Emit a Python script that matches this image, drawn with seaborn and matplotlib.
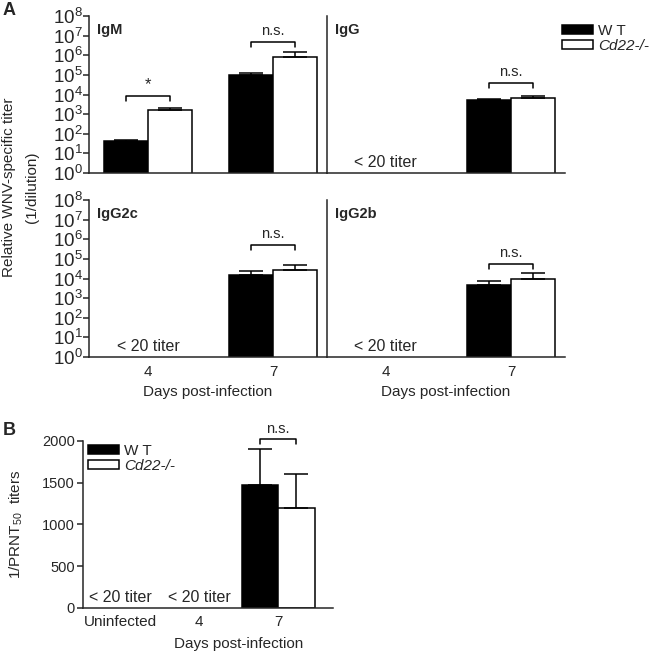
import numpy as np
import pandas as pd
import matplotlib
matplotlib.use("Agg")
import matplotlib.pyplot as plt
import matplotlib.transforms as mtransforms
from matplotlib.ticker import NullLocator
import seaborn as sns

# --- data ---
genotypes = ["W T", "Cd22-/-"]
days_a = ["4", "7"]
days_b = ["Uninfected", "4", "7"]
nan = np.nan

igm_wt = [41, 97000]
igm_ko = [1700, 800000]
igm_wt_sem = [9, 33000]
igm_ko_sem = [480, 650000]

igg_wt = [nan, 5500]
igg_ko = [nan, 6500]
igg_wt_sem = [nan, 500]
igg_ko_sem = [nan, 2400]

igg2c_wt = [nan, 15000]
igg2c_ko = [nan, 26000]
igg2c_wt_sem = [nan, 8000]
igg2c_ko_sem = [nan, 24000]

igg2b_wt = [nan, 4600]
igg2b_ko = [nan, 9300]
igg2b_wt_sem = [nan, 2800]
igg2b_ko_sem = [nan, 8700]

prnt_wt = [nan, nan, 1470]
prnt_ko = [nan, nan, 1195]
prnt_wt_sem = [nan, nan, 430]
prnt_ko_sem = [nan, nan, 410]

# significance labels: (day index, bracket height, label)
sig_igm = [(0, 10**3.9, "*"), (1, 10**6.67, "n.s.")]
sig_igg = [(1, 10**4.58, "n.s.")]
sig_igg2c = [(1, 10**5.7, "n.s.")]
sig_igg2b = [(1, 10**4.75, "n.s.")]
sig_prnt = [(2, 2020, "n.s.")]

# --- style ---
sns.set_style("ticks")
plt.rcParams["font.family"] = ["Liberation Sans", "DejaVu Sans"]
plt.rcParams["mathtext.fontset"] = "custom"
plt.rcParams["mathtext.rm"] = "Liberation Sans"
plt.rcParams["mathtext.it"] = "Liberation Sans:italic"
plt.rcParams["mathtext.bf"] = "Liberation Sans:bold"
plt.rcParams["axes.linewidth"] = 1.1
plt.rcParams["xtick.major.width"] = 1.1
plt.rcParams["ytick.major.width"] = 1.1
plt.rcParams["ytick.major.size"] = 4
plt.rcParams["xtick.major.size"] = 0
plt.rcParams["font.size"] = 10

palette = {"W T": "black", "Cd22-/-": "white"}


def make_df(days, wt, ko):
    return pd.DataFrame({
        "day": days * 2,
        "genotype": [genotypes[0]] * len(days) + [genotypes[1]] * len(days),
        "titer": list(wt) + list(ko),
    })


def draw_panel(ax, days, wt, ko, wt_sem, ko_sem, width, sigs, log=True, legend=False):
    df = make_df(days, wt, ko)
    sns.barplot(data=df, x="day", y="titer", hue="genotype", order=days,
                hue_order=genotypes, palette=palette, edgecolor="black",
                linewidth=1.1, width=width, errorbar=None, ax=ax, legend=legend)
    # one-sided (upper) error bars on each bar
    for j, (vals, sems) in enumerate([(wt, wt_sem), (ko, ko_sem)]):
        for i, (v, s) in enumerate(zip(vals, sems)):
            if np.isnan(v):
                continue
            xc = i + (j - 0.5) * width / 2
            ax.errorbar(xc, v, yerr=[[0], [s]], fmt="none", ecolor="black",
                        elinewidth=1.1, capsize=8.5, capthick=1.1, zorder=1)
    if log:
        ax.set_yscale("log")
        ax.set_ylim(1, 1e8)
        ax.yaxis.set_minor_locator(NullLocator())
    # brackets
    for i, yb, lab in sigs:
        x0 = i - width / 4
        x1 = i + width / 4
        if log:
            ylow = yb / 10**0.25
            ytxt = yb * 10**0.2
        else:
            ylow = yb - 60
            ytxt = yb + 40
        ax.plot([x0, x0, x1, x1], [ylow, yb, yb, ylow], color="black", lw=1.1,
                clip_on=False)
        if lab == "*":
            ax.text(i, ytxt, lab, ha="center", va="bottom", fontsize=12)
        else:
            ax.text(i, ytxt, lab, ha="center", va="bottom", fontsize=10.5)
    ax.set_xlabel("")
    ax.set_ylabel("")
    ax.tick_params(axis="x", length=0, pad=6, labelsize=11)
    ax.tick_params(axis="y", labelsize=10.5, pad=2)
    sns.despine(ax=ax)


def below20(ax, idx):
    trans = mtransforms.blended_transform_factory(ax.transData, ax.transAxes)
    ax.text(idx, 0.02, "< 20 titer", transform=trans, ha="center", va="bottom",
            fontsize=11.5)


fig = plt.figure(figsize=(6.5, 6.53), dpi=100)

ax_igm = fig.add_axes([0.137, 0.735, 0.366, 0.2405])
ax_igg = fig.add_axes([0.503, 0.735, 0.366, 0.2405])
ax_2c = fig.add_axes([0.137, 0.4533, 0.366, 0.2404])
ax_2b = fig.add_axes([0.503, 0.4533, 0.366, 0.2404])
ax_b = fig.add_axes([0.128, 0.069, 0.385, 0.2557])

wa = 0.7
draw_panel(ax_igm, days_a, igm_wt, igm_ko, igm_wt_sem, igm_ko_sem, wa, sig_igm)
draw_panel(ax_igg, days_a, igg_wt, igg_ko, igg_wt_sem, igg_ko_sem, wa, sig_igg, legend=True)
draw_panel(ax_2c, days_a, igg2c_wt, igg2c_ko, igg2c_wt_sem, igg2c_ko_sem, wa, sig_igg2c)
draw_panel(ax_2b, days_a, igg2b_wt, igg2b_ko, igg2b_wt_sem, igg2b_ko_sem, wa, sig_igg2b)

for ax, name in [(ax_igm, "IgM"), (ax_igg, "IgG"), (ax_2c, "IgG2c"), (ax_2b, "IgG2b")]:
    ax.set_xlim(-0.47, 1.43)
    ax.text(0.035, 0.955, name, transform=ax.transAxes, ha="left", va="top",
            fontsize=10.5, fontweight="bold")
    ax.set_yticks([10**k for k in range(9)])
    ax.set_yticklabels([f"$10^{{{k}}}$" for k in range(9)])
    ax.tick_params(axis="y", labelsize=13.5, pad=0.5)

for ax in [ax_igm, ax_igg]:
    ax.set_xticklabels([])
for ax in [ax_igg, ax_2b]:
    ax.tick_params(axis="y", length=0, labelleft=False)

for ax in [ax_igg, ax_2c, ax_2b]:
    below20(ax, 0)

for ax in [ax_2c, ax_2b]:
    ax.set_xlabel("Days post-infection", fontsize=11, labelpad=4)

# legend for panel A
leg = ax_igg.get_legend()
handles = leg.legend_handles
leg.remove()
leg_a = fig.legend(handles, genotypes, loc="upper left",
                   bbox_to_anchor=(562 / 650, 1 - 24 / 653), frameon=False,
                   handlelength=2.0, handleheight=0.55, handletextpad=0.35,
                   labelspacing=0.05, borderpad=0, borderaxespad=0, fontsize=11)
leg_a.get_texts()[1].set_style("italic")

fig.text(9 / 650, 1 - 187 / 653, "Relative WNV-specific titer", rotation=90,
         ha="center", va="center", fontsize=11)
fig.text(32 / 650, 1 - 187 / 653, "(1/dilution)", rotation=90,
         ha="center", va="center", fontsize=11)

# panel B
draw_panel(ax_b, days_b, prnt_wt, prnt_ko, prnt_wt_sem, prnt_ko_sem, 0.92, sig_prnt,
           log=False, legend=True)
ax_b.set_xlim(-0.47, 2.7)
ax_b.set_ylim(0, 2000)
ax_b.set_yticks([0, 500, 1000, 1500, 2000])
ax_b.tick_params(axis="x", pad=5)
below20(ax_b, 0)
below20(ax_b, 1)
ax_b.set_xlabel("Days post-infection", fontsize=11)
ax_b.xaxis.set_label_coords((1.5 + 0.47) / 3.17, -0.175)
ax_b.xaxis.label.set_va("top")
ax_b.set_ylabel("1/PRNT$_{50}$  titers", fontsize=11, labelpad=12)

leg = ax_b.get_legend()
handles = leg.legend_handles
leg.remove()
leg_b = ax_b.legend(handles, genotypes, loc="upper left",
                    bbox_to_anchor=(88 / 650, 1 - 444 / 653),
                    bbox_transform=fig.transFigure, frameon=False,
                    handlelength=2.0, handleheight=0.55, handletextpad=0.35,
                    labelspacing=0.05, borderpad=0, borderaxespad=0, fontsize=11)
leg_b.get_texts()[1].set_style("italic")

fig.text(0.004, 0.997, "A", ha="left", va="top", fontsize=13, fontweight="bold")
fig.text(0.004, 1 - 422 / 653, "B", ha="left", va="top", fontsize=13, fontweight="bold")

fig.savefig("out.png", dpi=100)
